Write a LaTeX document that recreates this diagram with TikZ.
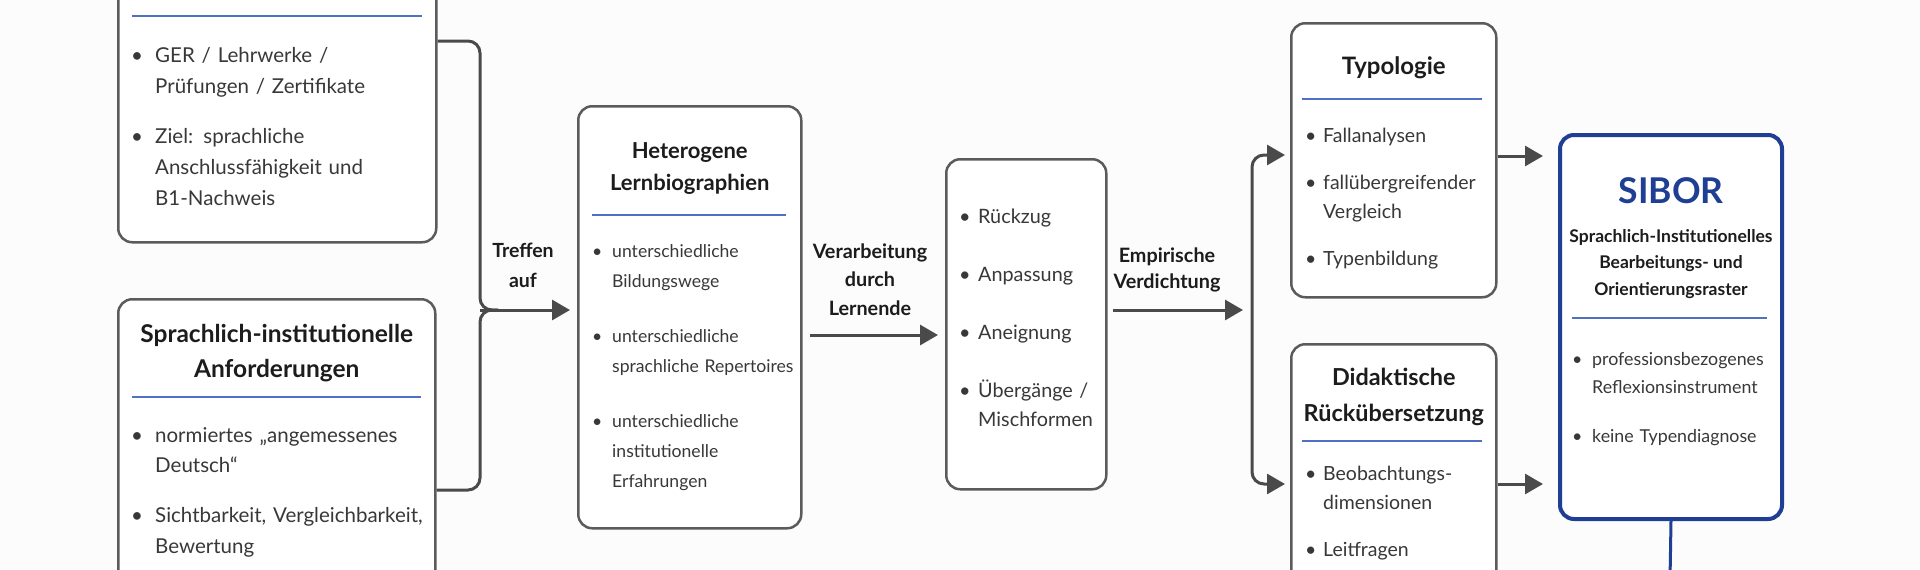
\documentclass[tikz,border=0pt]{standalone}
\usepackage{fontspec}
\setmainfont{Lato}
\usetikzlibrary{arrows.meta}

\definecolor{boxgray}{HTML}{5B5B5B}
\definecolor{arrowgray}{HTML}{4A4A4A}
\definecolor{ruleblue}{HTML}{5070C2}
\definecolor{siborblue}{HTML}{1E3F93}
\definecolor{ink}{HTML}{1C1C1C}
\definecolor{inkbody}{HTML}{383838}
\definecolor{paper}{HTML}{FCFCFC}

\newlength{\bulw}
\newlength{\itmgap}
\newcommand{\bitem}[1]{\noindent\llap{\makebox[\bulw][l]{\textbullet}}#1\par\vspace{\itmgap}}
\newcommand{\fs}[2]{\fontsize{#1}{#2}\selectfont}

\tikzset{
  box/.style={draw=boxgray, line width=2.5pt, rounded corners=14pt, fill=white, anchor=north west, inner sep=0pt},
  head/.style={text=ink, align=center, anchor=base, inner sep=0pt},
  body/.style={text=inkbody, anchor=base west, inner sep=0pt, text width=#1},
  lab/.style={text=ink, align=center, anchor=base, inner sep=0pt},
  rule/.style={draw=ruleblue, line width=2.5pt},
  link/.style={draw=arrowgray, line width=3pt, rounded corners=12pt},
  flow/.style={draw=arrowgray, line width=3pt, -{Triangle[length=18pt,width=20pt]}},
}

\begin{document}
\begin{tikzpicture}[x=1pt,y=-1pt]
\useasboundingbox (0,0) rectangle (1920,570);
\clip (0,0) rectangle (1920,570);
\fill[paper] (0,0) rectangle (1920,570);

% boxes
\node[box, minimum width=318pt, minimum height=321pt] (ger) at (117,-80) {};
\node[box, minimum width=317pt, minimum height=340pt] (req) at (117,298) {};
\node[box, minimum width=223pt, minimum height=422pt] (bio) at (577,105) {};
\node[box, minimum width=160pt, minimum height=330pt] (mode) at (945,158) {};
\node[box, minimum width=205pt, minimum height=274pt] (typ) at (1290,22) {};
\node[box, minimum width=205pt, minimum height=300pt] (did) at (1290,343) {};
\node[box, draw=siborblue, line width=4pt, minimum width=222pt, minimum height=384pt] (sibor) at (1558,133) {};

% titles (base = last line)
\node[head, font=\bfseries\fs{24.5}{35}] (reqt) at (req.north |- 0,377) {Sprachlich-institutionelle\\Anforderungen};
\node[head, font=\bfseries\fs{22}{32}] (biot) at (bio.north |- 0,190) {Heterogene\\Lernbiographien};
\node[head, font=\bfseries\fs{24}{36}] (typt) at (typ.north |- 0,74) {Typologie};
\node[head, font=\bfseries\fs{23.4}{36}] (didt) at (did.north |- 0,421) {Didaktische\\Rückübersetzung};
\node[head, text=siborblue, font=\bfseries\fs{35.5}{40}] (sibt) at (sibor.north |- 0,203) {SIBOR};
\node[head, font=\bfseries\fs{17.5}{26.5}] (sibs) at (sibor.north |- 0,295) {Sprachlich-Institutionelles\\Bearbeitungs- und\\Orientierungsraster};

% blue rules
\draw[rule] (132,16) -- (422,16);
\draw[rule] (132,397) -- (421,397);
\draw[rule] (592,215) -- (786,215);
\draw[rule] (1302,99) -- (1482,99);
\draw[rule] (1302,441) -- (1482,441);
\draw[rule] (1572,318) -- (1767,318);

% lists
\node[body=340pt, font=\fs{20.5}{31}] (gerl) at (131,62) {\setlength{\bulw}{24pt}\leftskip=\bulw\setlength{\itmgap}{19pt}%
  \bitem{GER / Lehrwerke /\\ Prüfungen / Zertifikate}%
  \bitem{Ziel: sprachliche\\ Anschlussfähigkeit und\\ B1-Nachweis}};
\node[body=340pt, font=\fs{20.5}{30.5}] (reql) at (131,442) {\setlength{\bulw}{24pt}\leftskip=\bulw\setlength{\itmgap}{19.5pt}%
  \bitem{normiertes „angemessenes\\ Deutsch“}%
  \bitem{Sichtbarkeit, Vergleichbarkeit,\\ Bewertung}};
\node[body=260pt, font=\fs{17.6}{30}] (biol) at (592,257) {\setlength{\bulw}{20pt}\leftskip=\bulw\setlength{\itmgap}{25pt}%
  \bitem{unterschiedliche\\ Bildungswege}%
  \bitem{unterschiedliche\\ sprachliche Repertoires}%
  \bitem{unterschiedliche\\ institutionelle\\ Erfahrungen}};
\node[body=200pt, font=\fs{19.8}{29}] (model) at (959,223) {\setlength{\bulw}{19pt}\leftskip=\bulw\setlength{\itmgap}{29pt}%
  \bitem{Rückzug}%
  \bitem{Anpassung}%
  \bitem{Aneignung}%
  \bitem{Übergänge /\\ Mischformen}};
\node[body=240pt, font=\fs{19.5}{29.5}] (typl) at (1305,142) {\setlength{\bulw}{18pt}\leftskip=\bulw\setlength{\itmgap}{17.5pt}%
  \bitem{Fallanalysen}%
  \bitem{fallübergreifender\\ Vergleich}%
  \bitem{Typenbildung}};
\node[body=240pt, font=\fs{19.5}{29}] (didl) at (1305,480) {\setlength{\bulw}{18pt}\leftskip=\bulw\setlength{\itmgap}{18pt}%
  \bitem{Beobachtungs-\\ dimensionen}%
  \bitem{Leitfragen}};
\node[body=260pt, font=\fs{17.8}{28}] (sibl) at (1572,365) {\setlength{\bulw}{20pt}\leftskip=\bulw\setlength{\itmgap}{21pt}%
  \bitem{professionsbezogenes\\ Reflexionsinstrument}%
  \bitem{keine Typendiagnose}};

% arrow labels (base = last line)
\node[lab, font=\bfseries\fs{19.5}{30}] (treffen) at (523,287) {Treffen\\auf};
\node[lab, font=\bfseries\fs{19.8}{28.5}] (verarb) at (870,315) {Verarbeitung\\durch\\Lernende};
\node[lab, font=\bfseries\fs{19.8}{26}] (empir) at (1167,288) {Empirische\\Verdichtung};

% connectors
\coordinate (fork) at (480,310);
\coordinate (split) at (1252,310);
\coordinate (out) at (1670,580);
\draw[link] (ger.east |- 0,41) -| (fork) -- ++(18,0);
\draw[link] (req.east |- 0,490) -| (fork) -- ++(18,0);
\draw[flow, shorten >=7pt] (fork) -- (bio.west |- fork);
\draw[flow, shorten <=7pt, shorten >=7pt] (bio.east |- 0,335) -- (mode.west |- 0,335);
\draw[flow, shorten <=5pt, shorten >=9pt] (mode.east |- split) -- (split);
\draw[link, -{Triangle[length=18pt,width=20pt]}, shorten >=5pt] (split) |- (typ.west |- 0,155);
\draw[link, -{Triangle[length=18pt,width=20pt]}, shorten >=5pt] (split) |- (did.west |- 0,484);
\draw[flow, shorten >=15pt] (typ.east |- 0,156) -- (sibor.west |- 0,156);
\draw[flow, shorten >=15pt] (did.east |- 0,484) -- (sibor.west |- 0,484);
\draw[draw=siborblue, line width=3pt] (sibor.south) -- (out);
\end{tikzpicture}
\end{document}
